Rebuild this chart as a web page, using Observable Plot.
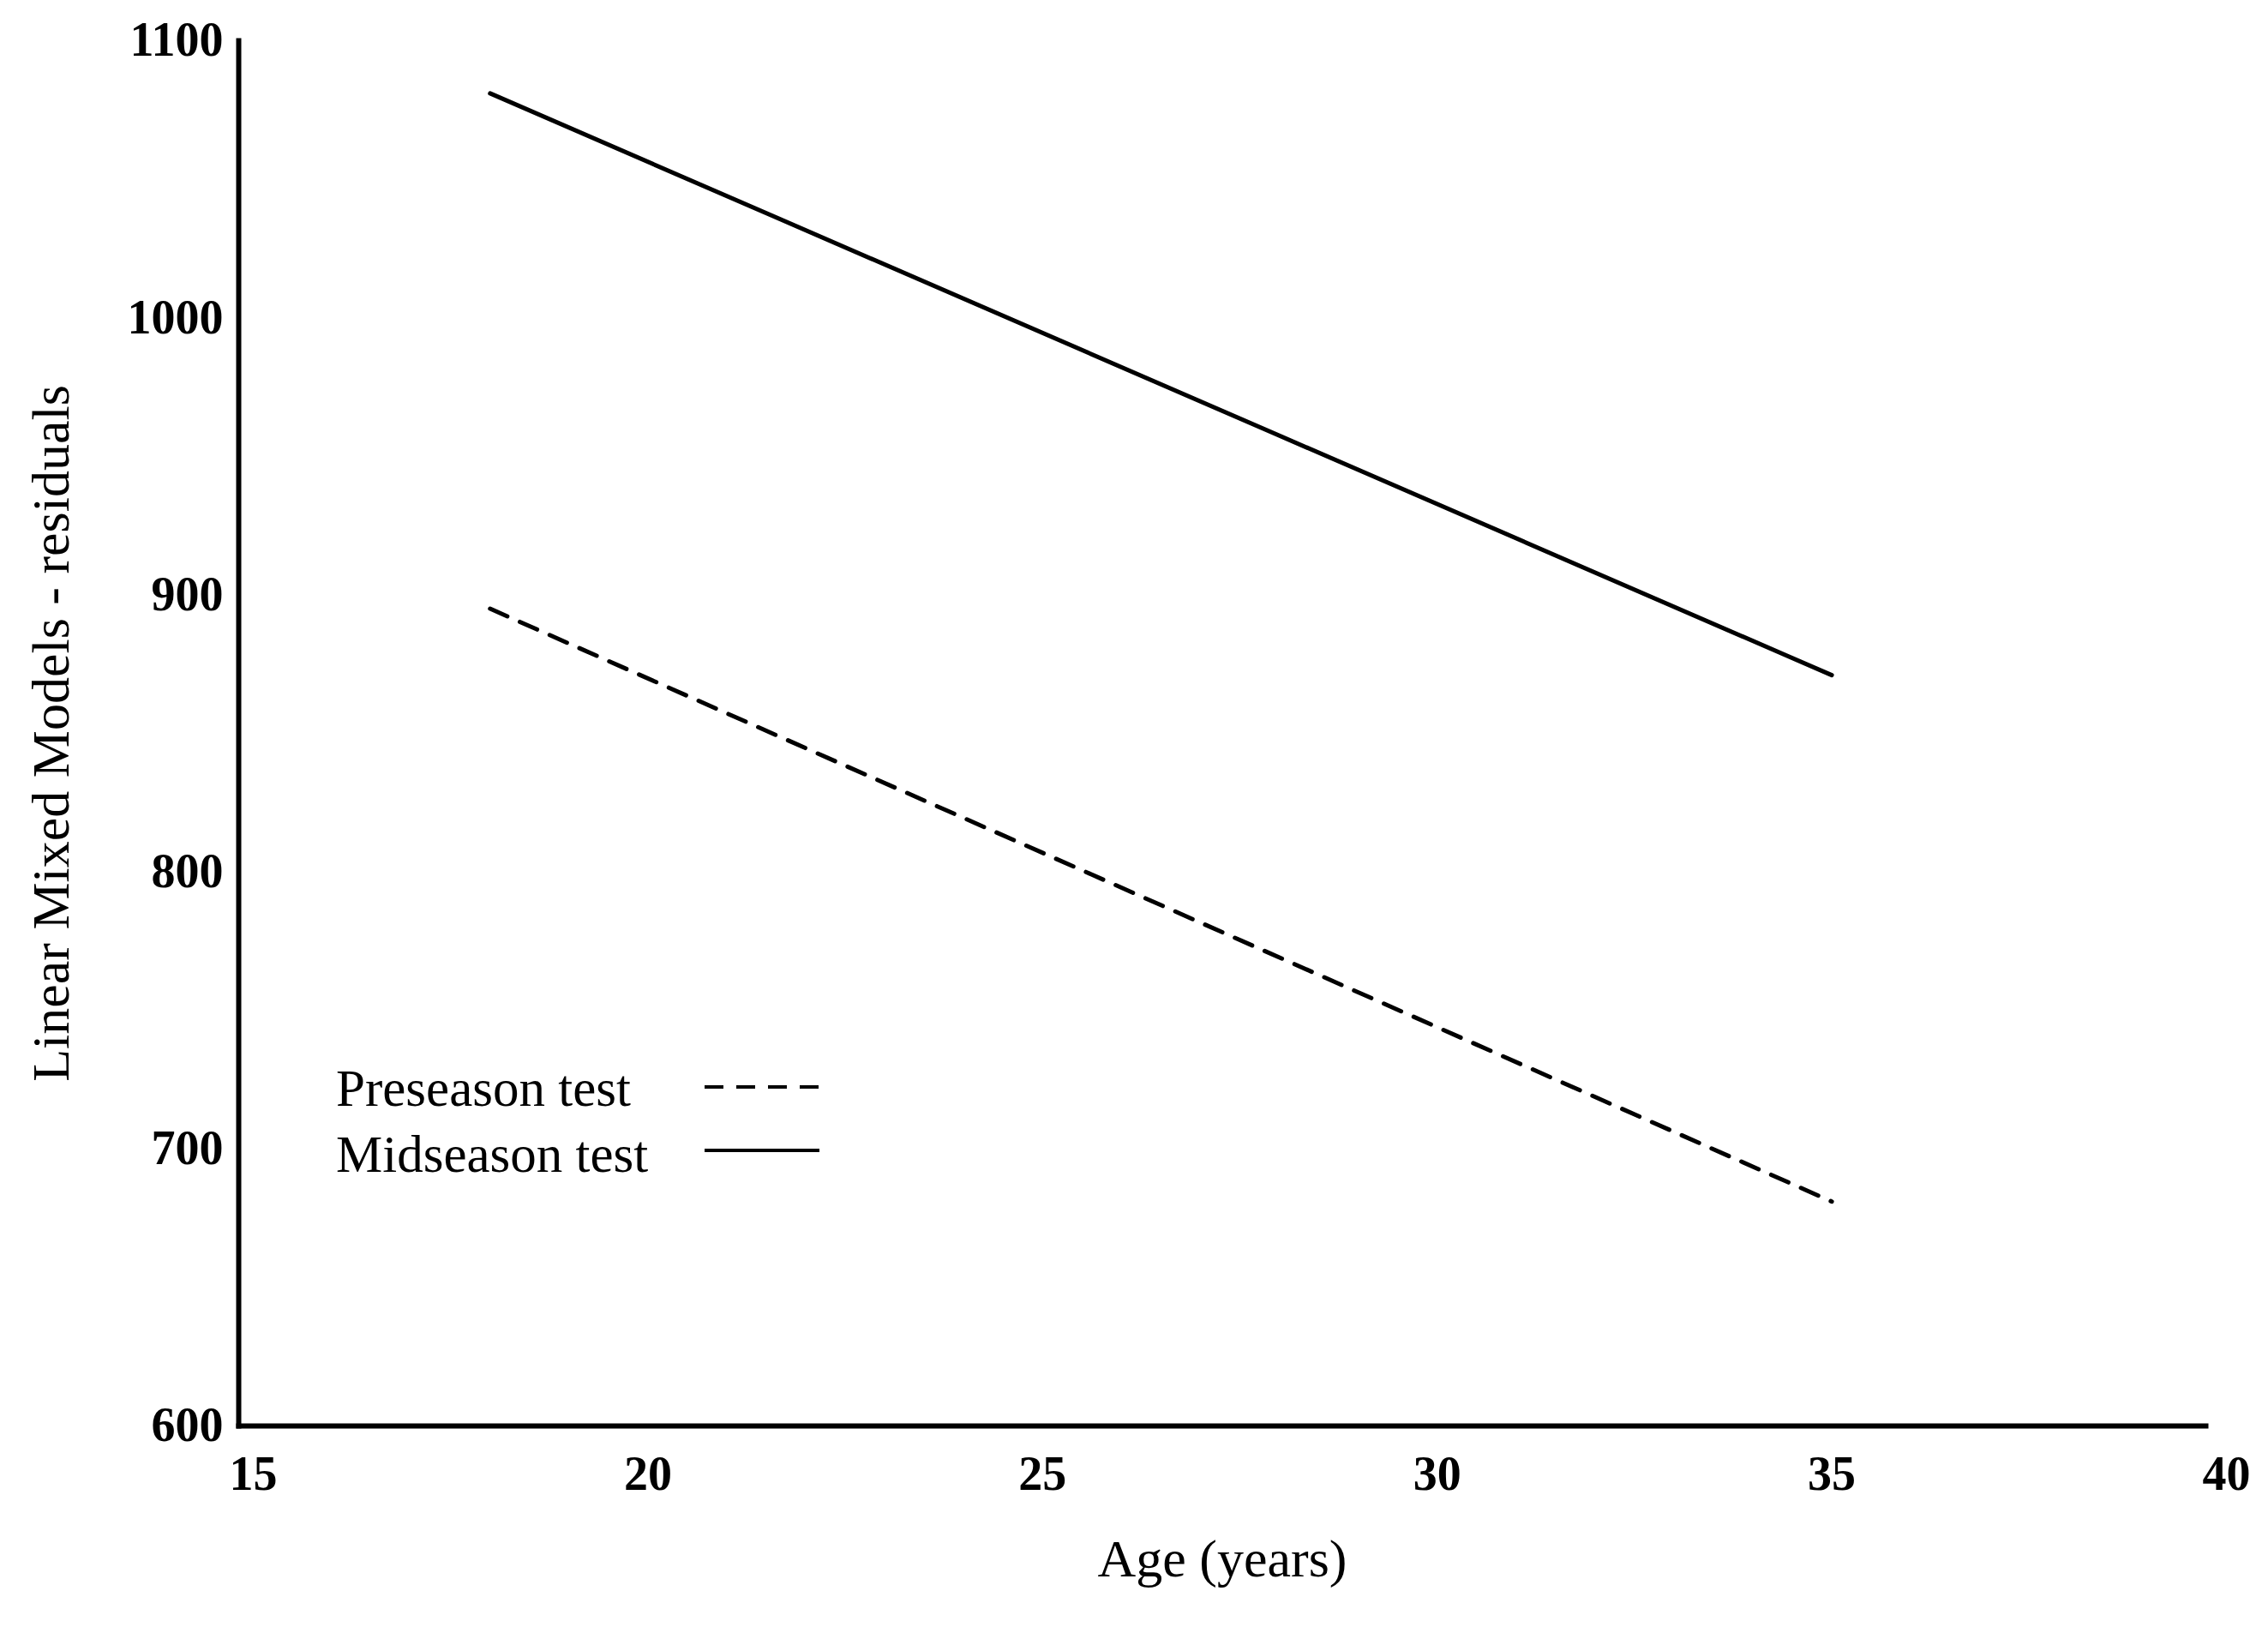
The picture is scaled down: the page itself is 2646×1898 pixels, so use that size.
<!DOCTYPE html>
<html>
<head>
<meta charset="utf-8">
<script src="https://cdn.jsdelivr.net/npm/d3@7"></script>
<script src="https://cdn.jsdelivr.net/npm/@observablehq/plot@0.6"></script>
<style>
  html, body { margin: 0; padding: 0; background: white; }
  #wrap { position: relative; width: 2646px; height: 1898px; }
  #legend { position: absolute; left: 0; top: 0; }
</style>
</head>
<body>
<div id="wrap"></div>
<script>
// Data
const ages = [18, 35];
const preseason = [895, 681];
const midseason = [1081, 871];
const xTicks = [15, 20, 25, 30, 35, 40];
const yTicks = [600, 700, 800, 900, 1000, 1100];
const seriesNames = ["Preseason test", "Midseason test"];
const xTitle = "Age (years)";
const yTitle = "Linear Mixed Models - residuals";

const pre = ages.map((a, i) => ({age: a, value: preseason[i], series: seriesNames[0]}));
const mid = ages.map((a, i) => ({age: a, value: midseason[i], series: seriesNames[1]}));

const font = "'Liberation Serif', 'Times New Roman', serif";

const chart = Plot.plot({
  width: 2646,
  height: 1898,
  marginLeft: 278,
  marginRight: 73,
  marginTop: 47,
  marginBottom: 235,
  style: {fontFamily: font, background: "white", color: "black"},
  x: {domain: [15, 40], insetLeft: 17, insetRight: -24},
  y: {domain: [600, 1100]},
  marks: [
    Plot.frame({anchor: "left", stroke: "black", strokeWidth: 6, strokeLinecap: "square"}),
    Plot.frame({anchor: "bottom", stroke: "black", strokeWidth: 6, strokeLinecap: "square"}),
    Plot.axisY({ticks: yTicks, tickFormat: d => String(d), tickSize: 0, tickPadding: 18, fontSize: 56, fontWeight: "bold", label: null}),
    Plot.axisX({ticks: xTicks, tickFormat: d => String(d), tickSize: 0, tickPadding: 35, fontSize: 56, fontWeight: "bold", label: null}),
    Plot.line(pre, {x: "age", y: "value", stroke: "black", strokeWidth: 5, strokeDasharray: "22,16"}),
    Plot.line(mid, {x: "age", y: "value", stroke: "black", strokeWidth: 5}),
    Plot.text([xTitle], {frameAnchor: "bottom", dy: 175, fontSize: 62}),
    Plot.text([yTitle], {frameAnchor: "left", textAnchor: "middle", rotate: -90, dx: -218, fontSize: 62})
  ]
});

const wrap = document.getElementById("wrap");
wrap.appendChild(chart);

// Legend overlay (inside the plotting area, lower-left)
const leg = d3.select(wrap).append("svg")
  .attr("id", "legend")
  .attr("width", 2646).attr("height", 1898)
  .style("pointer-events", "none");
const items = [
  {name: seriesNames[0], dash: "22,15", baseline: 1290, lineY: 1268},
  {name: seriesNames[1], dash: null, baseline: 1367, lineY: 1342}
];
items.forEach(d => {
  leg.append("text")
    .attr("x", 392).attr("y", d.baseline)
    .attr("font-family", font).attr("font-size", 61)
    .attr("fill", "black")
    .text(d.name);
  const l = leg.append("line")
    .attr("x1", 822).attr("x2", 956)
    .attr("y1", d.lineY).attr("y2", d.lineY)
    .attr("stroke", "black").attr("stroke-width", 4);
  if (d.dash) l.attr("stroke-dasharray", d.dash);
});
</script>
</body>
</html>
